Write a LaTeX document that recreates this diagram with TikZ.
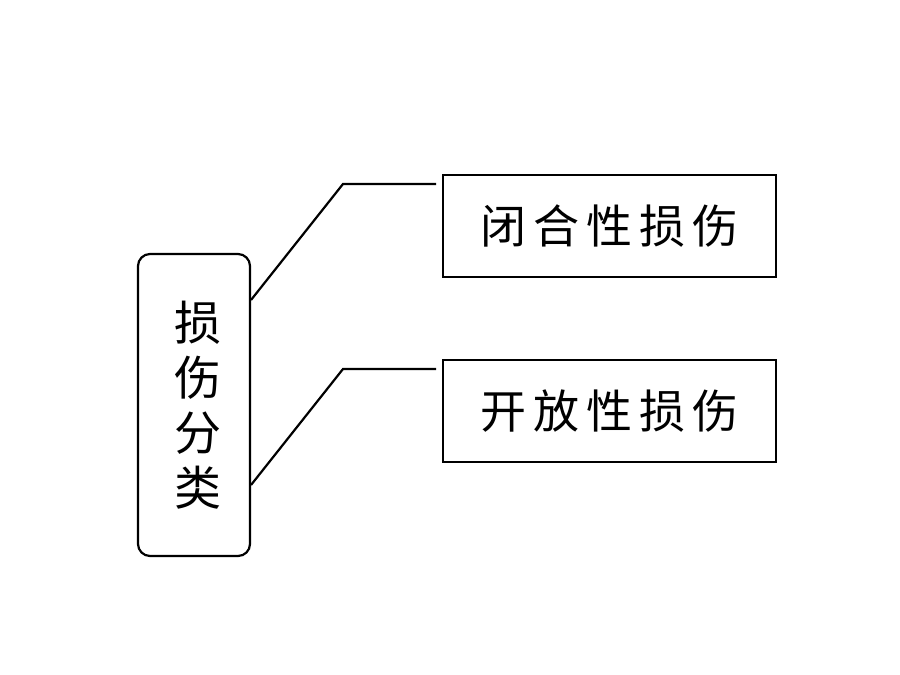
\documentclass[tikz,border=0pt]{standalone}
\usepackage{fontspec}
\newfontfamily\cjk[LetterSpace=15]{Noto Sans CJK SC}
\newfontfamily\cjkv{Noto Sans CJK SC}
\tikzset{
  catbox/.style={draw=black, line width=2.2pt, rounded corners=12pt, minimum width=112pt, minimum height=302pt, inner sep=0pt, align=center, font=\cjkv\fontsize{47pt}{55pt}\selectfont},
  itembox/.style={draw=black, line width=2.4pt, minimum width=333pt, minimum height=102pt, inner sep=0pt, font=\cjk\fontsize{46pt}{52pt}\selectfont},
  conn/.style={draw=black, line width=2.2pt}
}
\begin{document}
\begin{tikzpicture}[x=1pt,y=-1pt]
\useasboundingbox (0,0) rectangle (900,675);
\node[catbox] (cat) at (194,405) {\hspace*{8pt}损\\\hspace*{8pt}伤\\\hspace*{8pt}分\\\hspace*{8pt}类};
\node[itembox] (closed) at (609.5,226) {闭合性损伤};
\node[itembox] (open) at (609.5,411) {开放性损伤};
\coordinate (s1) at (251,300);
\coordinate (b1) at (343,184);
\coordinate (e1) at (436,184);
\coordinate (s2) at (251,485);
\coordinate (b2) at (343,369);
\coordinate (e2) at (436,369);
\draw[conn] (s1) -- (b1) -- (e1);
\draw[conn] (s2) -- (b2) -- (e2);
\end{tikzpicture}
\end{document}
